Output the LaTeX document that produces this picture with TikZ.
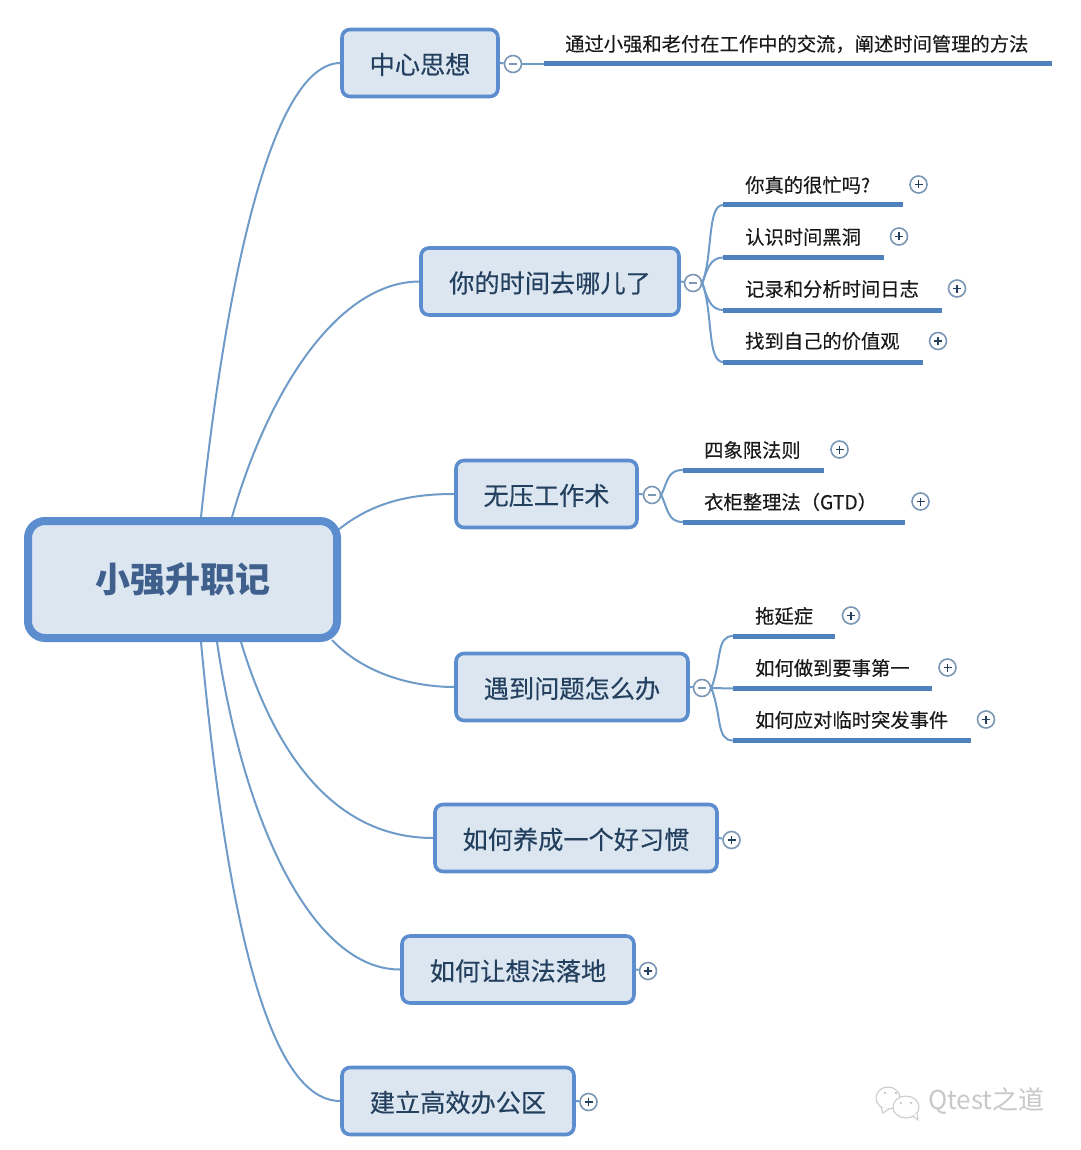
\documentclass[tikz,border=0pt]{standalone}
\usepackage{fontspec}
\newfontfamily\cjk{Noto Sans CJK SC}
\newfontfamily\cjkheavy[FakeBold=0.25]{Noto Sans CJK SC}
\definecolor{boxfill}{HTML}{DCE6F1}
\definecolor{boxedge}{HTML}{5B8DCF}
\definecolor{linkc}{HTML}{6F9BC8}
\definecolor{ulc}{HTML}{4F81BD}
\definecolor{titlec}{HTML}{3F5F8C}
\definecolor{topicc}{HTML}{24405F}
\definecolor{leafc}{HTML}{1A1A1A}
\definecolor{markc}{HTML}{7A97B5}
\definecolor{wmc}{HTML}{C8C8C8}
\tikzset{
  rootbox/.style={draw=boxedge,fill=boxfill,line width=8pt,rounded corners=17pt,
    minimum width=309pt,minimum height=117pt,inner sep=0pt,text=titlec,
    font=\cjk\bfseries\fontsize{35}{40}\selectfont},
  topicbox/.style={draw=boxedge,fill=boxfill,line width=3.6pt,rounded corners=8pt,
    minimum height=67pt,inner sep=0pt,text=topicc,text height=22pt,text depth=0pt,
    font=\cjkheavy\fontsize{25.2}{30}\selectfont},
  leaftext/.style={anchor=west,inner sep=0pt,text=leafc,
    font=\cjkheavy\fontsize{19.3}{24}\selectfont},
  link/.style={draw=linkc,line width=2pt},
  ul/.style={draw=ulc,line width=5pt},
  marker/.style={circle,draw=markc,fill=white,line width=1.6pt,minimum size=17pt,inner sep=0pt},
  sign/.style={draw=#1,line width=1.5pt},
  wm/.style={draw=wmc,fill=white,line width=1pt}
}
\newcommand{\leafitem}[7]{% name, x start, x end, y line, x text, y text, text
  \coordinate (#1-s) at (#2,#4);
  \coordinate (#1-e) at (#3,#4);
  \node[leaftext] (#1) at (#5,#6) {#7};
  \draw[ul] (#1-s) -- (#1-e);
}
\newcommand{\plusmark}[3]{%
  \node[marker] (#1) at (#2,#3) {};
  \draw[sign=topicc] ([xshift=-4pt]#1.center) -- ([xshift=4pt]#1.center);
  \draw[sign=topicc] ([yshift=-4pt]#1.center) -- ([yshift=4pt]#1.center);
}
\newcommand{\minusmark}[3]{%
  \node[marker] (#1) at (#2,#3) {};
  \draw[sign=markc] ([xshift=-4pt]#1.center) -- ([xshift=4pt]#1.center);
}
\begin{document}
\begin{tikzpicture}[x=1pt,y=-1pt]
\useasboundingbox (0,0) rectangle (1080,1150);

\coordinate (r1) at (201,517);
\coordinate (r2) at (232,517);
\coordinate (r3) at (338,530);
\coordinate (r4) at (332,640);
\coordinate (r5) at (241,642);
\coordinate (r6) at (217,642);
\coordinate (r7) at (201,642);

\node[topicbox,minimum width=156pt] (t1) at (420,63) {中心思想};
\node[topicbox,minimum width=258pt] (t2) at (550,281.5) {你的时间去哪儿了};
\node[topicbox,minimum width=181pt] (t3) at (546.5,494) {无压工作术};
\node[topicbox,minimum width=232pt] (t4) at (572,687) {遇到问题怎么办};
\node[topicbox,minimum width=282pt] (t5) at (576,838) {如何养成一个好习惯};
\node[topicbox,minimum width=232pt] (t6) at (518,969.5) {如何让想法落地};
\node[topicbox,minimum width=232pt] (t7) at (458,1101) {建立高效办公区};

\draw[link] (r1) .. controls (225,290) and (270,64) .. (t1.west);
\draw[link] (r2) .. controls (270,385) and (340,282) .. (t2.west);
\draw[link] (r3) .. controls (375,500) and (415,494) .. (t3.west);
\draw[link] (r4) .. controls (365,675) and (415,687) .. (t4.west);
\draw[link] (r5) .. controls (275,755) and (335,838) .. (t5.west);
\draw[link] (r6) .. controls (245,830) and (315,970) .. (t6.west);
\draw[link] (r7) .. controls (225,900) and (265,1101) .. (t7.west);

\node[rootbox] (root) at (182.5,579.5) {小强升职记};

% topic 1
\minusmark{m1}{513}{64}
\draw[link] (t1.east) -- (m1);
\leafitem{a1}{544}{1052}{64}{565}{44}{通过小强和老付在工作中的交流，阐述时间管理的方法}
\draw[link] (m1) -- (a1-s);

% topic 2
\minusmark{m2}{693}{283}
\draw[link] (t2.east) -- (m2);
\leafitem{b1}{723}{903}{205}{745}{185}{你真的很忙吗?}
\leafitem{b2}{723}{884}{257.5}{745}{237}{认识时间黑洞}
\leafitem{b3}{723}{942}{310}{745}{289}{记录和分析时间日志}
\leafitem{b4}{723}{923}{362}{745}{341}{找到自己的价值观}
\draw[link] (m2.east) .. controls (713,255) and (707,205) .. (b1-s);
\draw[link] (m2.east) .. controls (707,270) and (710,257.5) .. (b2-s);
\draw[link] (m2.east) .. controls (707,297) and (710,310) .. (b3-s);
\draw[link] (m2.east) .. controls (713,312) and (707,362) .. (b4-s);
\plusmark{p1}{918.5}{184.5}
\plusmark{p2}{899}{236.5}
\plusmark{p3}{957}{288.5}
\plusmark{p4}{938}{341}

% topic 3
\minusmark{m3}{652}{495}
\draw[link] (t3.east) -- (m3);
\leafitem{c1}{683}{824}{470}{704}{450}{四象限法则}
\leafitem{c2}{683}{905}{522}{704}{502}{衣柜整理法（GTD）}
\draw[link] (m3.east) .. controls (668,480) and (668,470) .. (c1-s);
\draw[link] (m3.east) .. controls (668,510) and (668,522) .. (c2-s);
\plusmark{p5}{839.5}{449.5}
\plusmark{p6}{920.5}{501.5}

% topic 4
\minusmark{m4}{702}{688}
\draw[link] (t4.east) -- (m4);
\leafitem{d1}{733}{835}{636}{755}{616}{拖延症}
\leafitem{d2}{733}{932}{688.5}{755}{668}{如何做到要事第一}
\leafitem{d3}{733}{971}{740.5}{755}{720}{如何应对临时突发事件}
\draw[link] (m4.east) .. controls (722,660) and (716,636) .. (d1-s);
\draw[link] (m4.east) -- (d2-s);
\draw[link] (m4.east) .. controls (722,716) and (716,740.5) .. (d3-s);
\plusmark{p7}{851}{615.5}
\plusmark{p8}{947.5}{667.5}
\plusmark{p9}{986}{719.5}

% collapsed topics
\plusmark{p10}{731.5}{840}
\draw[link] (t5.east) -- (p10);
\plusmark{p11}{648}{971}
\draw[link] (t6.east) -- (p11);
\plusmark{p12}{588.5}{1102}
\draw[link] (t7.east) -- (p12);

% watermark
\draw[wm] (888,1098) ellipse (12pt and 11pt);
\draw[wm] (881,1107) -- (883,1113) -- (889,1109);
\draw[wm] (906,1107) ellipse (13pt and 11pt);
\draw[wm] (913,1116) -- (918,1120) -- (917,1113);
\fill[wmc] (885,1093) circle (1.3pt) (896,1093) circle (1.3pt);
\fill[wmc] (901,1103) circle (1.3pt) (911,1103) circle (1.3pt);
\node[anchor=west,inner sep=0pt,text=wmc,font=\cjk\fontsize{26}{30}\selectfont] (wmtext) at (928,1101) {Qtest之道};
\end{tikzpicture}
\end{document}
